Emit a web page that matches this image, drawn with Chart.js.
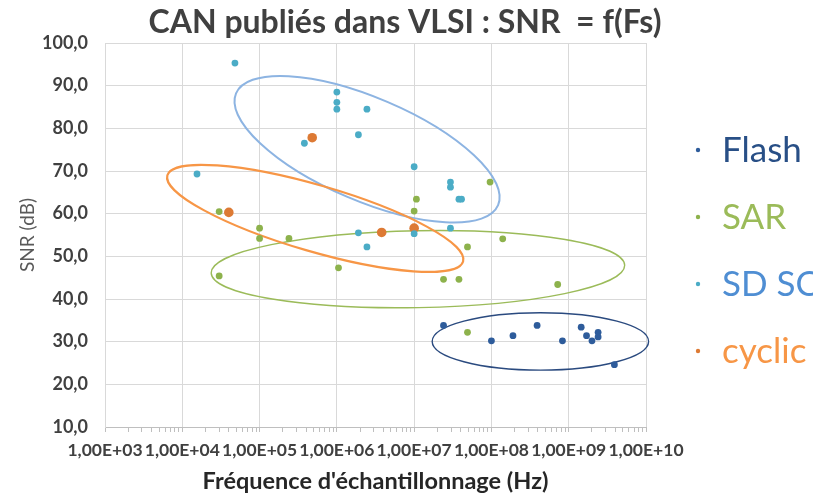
<!DOCTYPE html>
<html lang="fr">
<head>
<meta charset="UTF-8">
<title>CAN publiés dans VLSI : SNR = f(Fs)</title>
<style>
  * { margin: 0; padding: 0; box-sizing: border-box; }
  body { background: #ffffff; width: 813px; height: 497px; overflow: hidden; }
  #snrChart { display: block; }
</style>
</head>
<body>
<canvas id="snrChart" width="813" height="497"></canvas>
<script src="https://cdn.jsdelivr.net/npm/chart.js@4"></script>
<script>
// Fréquence d'échantillonnage (Hz) / SNR (dB), per architecture
const flashFs  = [2.4e7, 1.0e8, 1.9e8, 3.9e8, 8.3e8, 1.45e9, 1.7e9, 2.0e9, 2.4e9, 2.4e9, 3.9e9];
const flashSnr = [33.8, 30.2, 31.4, 33.8, 30.2, 33.4, 31.4, 30.2, 32.2, 31.1, 24.6];

const sarFs  = [3.0e4, 3.0e4, 1.0e5, 1.0e5, 2.4e5, 1.05e6, 1.07e7, 1.0e7, 9.6e7, 1.4e8, 4.9e7, 2.4e7, 3.8e7, 7.2e8, 4.9e7];
const sarSnr = [60.5, 45.4, 56.6, 54.2, 54.2, 47.3, 63.4, 60.6, 67.4, 54.1, 52.2, 44.6, 44.6, 43.4, 32.2];

const sdscFs  = [4.8e4, 1.0e6, 1.0e6, 1.0e6, 2.45e6, 1.9e6, 3.8e5, 1.55e4, 1.9e6, 2.45e6, 1.0e7, 2.95e7, 2.95e7, 3.8e7, 4.1e7, 2.95e7, 1.0e7];
const sdscSnr = [95.3, 88.5, 86.1, 84.5, 84.5, 78.5, 76.5, 69.3, 55.5, 52.2, 71.0, 67.4, 66.2, 63.4, 63.4, 56.6, 55.3];

const cyclicFs  = [4.8e5, 4.0e4, 3.8e6, 1.0e7];
const cyclicSnr = [77.8, 60.3, 55.6, 56.6];

const seriesNames = ['Flash', 'SAR', 'SD SC', 'cyclic'];
const chartTitle = 'CAN publiés dans VLSI : SNR  = f(Fs)';

// axis ranges and ticks
const fsDecades = [1e3, 1e4, 1e5, 1e6, 1e7, 1e8, 1e9, 1e10];
const fsMinorSteps = [2, 3, 4, 5, 6, 7, 8, 9];
const snrMin = 10, snrMax = 100, snrStep = 10;

// hand drawn groupings: centre, end of the long axis, short/long ratio
const groupEllipses = [
  { center: [1.12e7, 47.0], end: [5.3e9, 47.9], ratio: 0.186, color: '#9BBB59', width: 1.4 },
  { center: [2.46e6, 75.1], end: [1.22e8, 62.0], ratio: 0.362, color: '#8DB4E2', width: 2 },
  { center: [5.25e5, 58.9], end: [4.3e7, 48.8], ratio: 0.215, color: '#F79646', width: 2.2 },
  { center: [4.3e8, 30.05], end: [1.08e10, 30.05], ratio: 0.265, color: '#2A4A7F', width: 1.4 }
];

const pointColors = ['#2E5C9B', '#8DB24C', '#4BACC6', '#DD7A34'];
const legendColors = ['#284F86', '#9BBB59', '#4F8ED3', '#F79646'];

function toPoints(xs, ys) {
  return xs.map((x, i) => ({ x: x, y: ys[i] }));
}

function sciLabel(v) {
  const exp = Math.round(Math.log10(v));
  const mant = v / Math.pow(10, exp);
  return mant.toFixed(2).replace('.', ',') + 'E+' + String(exp).padStart(2, '0');
}

const ellipsePlugin = {
  id: 'groupEllipses',
  beforeDatasetsDraw(chart) {
    const { ctx, scales: { x, y } } = chart;
    ctx.save();
    groupEllipses.forEach(e => {
      const cx = x.getPixelForValue(e.center[0]);
      const cy = y.getPixelForValue(e.center[1]);
      const ex = x.getPixelForValue(e.end[0]);
      const ey = y.getPixelForValue(e.end[1]);
      const a = Math.hypot(ex - cx, ey - cy);
      ctx.beginPath();
      ctx.ellipse(cx, cy, a, a * e.ratio, Math.atan2(ey - cy, ex - cx), 0, Math.PI * 2);
      ctx.strokeStyle = e.color;
      ctx.lineWidth = e.width;
      ctx.stroke();
    });
    ctx.restore();
  }
};

// title sits over the plot + legend block, so it is drawn here
const headerAndLegend = {
  id: 'headerAndLegend',
  afterDraw(chart) {
    const ctx = chart.ctx;
    ctx.save();
    ctx.font = 'bold 32px Lato, "Open Sans", sans-serif';
    ctx.fillStyle = '#404040';
    ctx.textAlign = 'center';
    ctx.textBaseline = 'middle';
    ctx.fillText(chartTitle, 405, 23);

    ctx.font = '35px Lato, "Open Sans", sans-serif';
    ctx.textAlign = 'left';
    ctx.textBaseline = 'alphabetic';
    chart.data.datasets.forEach((ds, i) => {
      const yy = 150 + i * 67;
      ctx.fillStyle = ds.backgroundColor;
      ctx.beginPath();
      ctx.arc(698, yy, 2.2, 0, Math.PI * 2);
      ctx.fill();
      ctx.fillStyle = legendColors[i];
      ctx.fillText(ds.label, 722, yy + 12);
    });
    ctx.restore();
  }
};

new Chart(document.getElementById('snrChart'), {
  type: 'scatter',
  data: {
    datasets: [
      { label: seriesNames[0], data: toPoints(flashFs, flashSnr), backgroundColor: pointColors[0], pointRadius: 3.4 },
      { label: seriesNames[1], data: toPoints(sarFs, sarSnr), backgroundColor: pointColors[1], pointRadius: 3.4 },
      { label: seriesNames[2], data: toPoints(sdscFs, sdscSnr), backgroundColor: pointColors[2], pointRadius: 3.4 },
      { label: seriesNames[3], data: toPoints(cyclicFs, cyclicSnr), backgroundColor: pointColors[3], pointRadius: 4.8 }
    ]
  },
  options: {
    responsive: false,
    animation: false,
    devicePixelRatio: 1,
    layout: { padding: { top: 43, right: 167, bottom: 0, left: 0 } },
    elements: { point: { borderWidth: 0, hoverRadius: 5 } },
    plugins: {
      legend: { display: false },
      tooltip: { enabled: false },
      title: { display: false }
    },
    scales: {
      x: {
        type: 'logarithmic',
        min: fsDecades[0],
        max: fsDecades[fsDecades.length - 1],
        afterBuildTicks(scale) {
          const ticks = [];
          fsDecades.forEach((d, i) => {
            ticks.push({ value: d, major: true });
            if (i < fsDecades.length - 1) {
              fsMinorSteps.forEach(m => ticks.push({ value: m * d, major: false }));
            }
          });
          scale.ticks = ticks;
        },
        afterFit(scale) { scale.height = 70; },
        border: { color: '#BFBFBF', width: 1 },
        grid: {
          color: c => (c.tick && c.tick.major ? '#D9D9D9' : 'rgba(0,0,0,0)'),
          tickColor: '#BFBFBF',
          tickLength: 5,
          lineWidth: 1
        },
        ticks: {
          autoSkip: false,
          maxRotation: 0,
          minRotation: 0,
          padding: 8,
          color: '#404040',
          font: { family: 'Lato', size: 17.5, weight: 'bold' },
          callback: (v) => (fsDecades.includes(v) ? sciLabel(v) : '')
        },
        title: {
          display: true,
          text: "Fréquence d'échantillonnage (Hz)",
          color: '#262626',
          font: { family: 'Lato', size: 23.5, weight: 'bold', lineHeight: 1.2 },
          padding: { top: 0, bottom: 1 }
        }
      },
      y: {
        min: snrMin,
        max: snrMax,
        afterFit(scale) { scale.width = 105; },
        border: { color: '#D9D9D9', width: 1 },
        grid: { color: '#D9D9D9', drawTicks: false },
        ticks: {
          stepSize: snrStep,
          padding: 17,
          color: '#404040',
          font: { family: 'Lato', size: 18, weight: 'bold' },
          callback: (v) => v.toFixed(1).replace('.', ',')
        },
        title: {
          display: true,
          text: 'SNR (dB)',
          color: '#595959',
          font: { family: 'Lato', size: 19, weight: 'normal', lineHeight: 1.2 },
          padding: { top: 16, bottom: 0 }
        }
      }
    }
  },
  plugins: [ellipsePlugin, headerAndLegend]
});
</script>
</body>
</html>
